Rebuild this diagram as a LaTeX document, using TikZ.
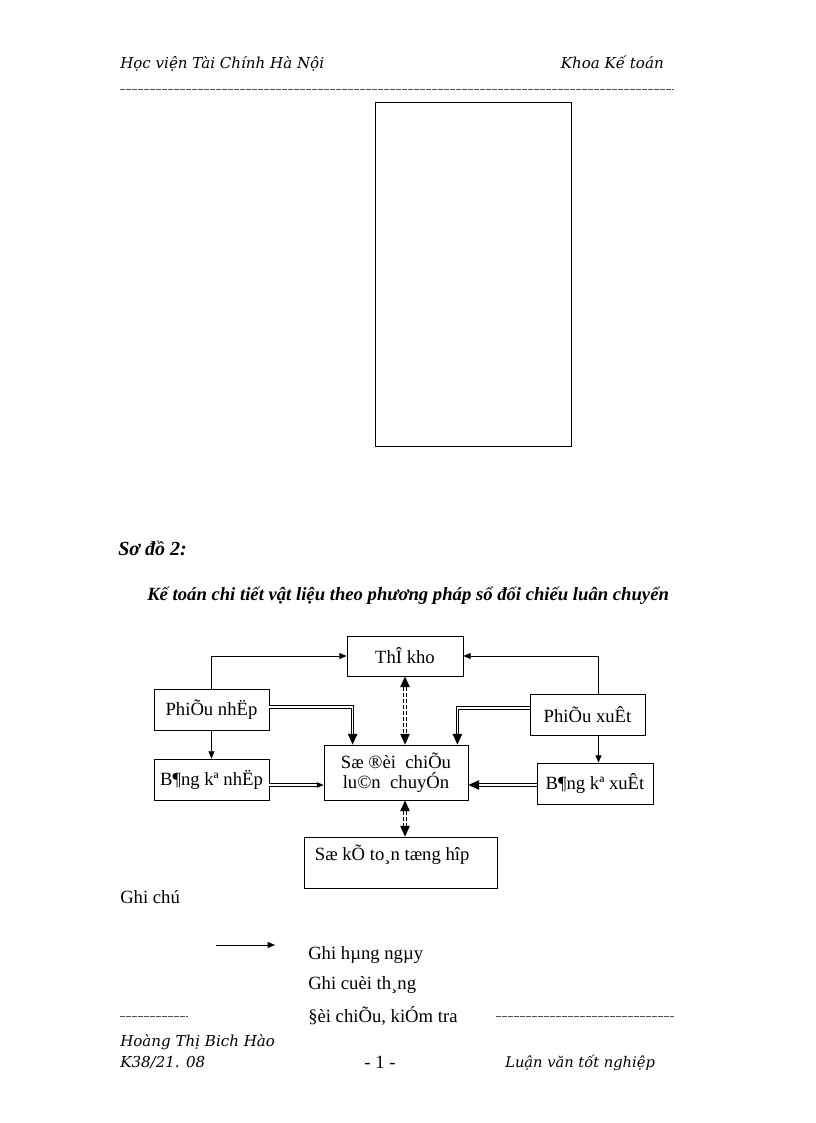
\documentclass[tikz,border=0pt]{standalone}
\usepackage{fontspec}
\setmainfont{Liberation Serif}
\newfontfamily\headfont{DejaVu Serif}
\usetikzlibrary{arrows.meta, positioning, calc}

\begin{document}
\begin{tikzpicture}[
    x=0.75pt, y=-0.75pt,
    box/.style={draw, line width=0.6pt, minimum width=115*0.75pt, minimum height=41*0.75pt, inner sep=0pt, font=\fontsize{14}{16}\selectfont},
    body/.style={anchor=west, inner sep=0pt, font=\fontsize{14}{16}\selectfont},
    headtext/.style={anchor=base west, inner sep=0pt, font=\headfont\itshape\fontsize{11.3}{13}\selectfont},
    thinarrow/.style={line width=0.6pt, -{Triangle[length=5.5pt, width=4.5pt]}},
    dblarrow/.style={double, double distance=0.8pt, line width=0.8pt, -{Triangle[length=8pt, width=7pt]}},
    dblsmall/.style={double, double distance=0.8pt, line width=0.8pt, -{Triangle[length=5pt, width=4pt]}},
    dashdbl/.style={double, double distance=0.8pt, line width=0.8pt, dash pattern=on 3pt off 1.5pt, {Triangle[length=8pt, width=7pt]}-{Triangle[length=8pt, width=7pt]}},
    rule/.style={line width=0.5pt, black!70, dash pattern=on 3.4pt off 1.1pt}
]
    % page
    \fill[white] (0,0) rectangle (816,1123);

    % header
    \node[headtext] (head1) at (120,69) {Học viện Tài Chính Hà Nội};
    \node[headtext, anchor=base east] (head2) at (664,69) {Khoa Kế toán};
    \draw[rule] (120,89) -- (674,89);

    % empty frame
    \draw[line width=0.6pt] (375,102) rectangle (571,446);

    % titles
    \node[body, font=\bfseries\itshape\fontsize{15}{17}\selectfont] (sodo) at (118,548) {Sơ đồ 2:};
    \node[body, font=\bfseries\itshape\fontsize{14}{16}\selectfont] (title) at (147,596) {Kế toán chi tiết vật liệu theo phương pháp sổ đối chiếu luân chuyển};

    % boxes
    \node[box, minimum width=116*0.75pt, minimum height=40*0.75pt] (thekho) at (405,656) {ThÎ kho};
    \node[box] (pnhap) at (211.5,709.5) {PhiÕu nhËp};
    \node[box] (pxuat) at (587.5,714.5) {PhiÕu xuÊt};
    \node[box, minimum width=144*0.75pt, minimum height=55*0.75pt, align=center] (sodc) at (396,772.5) {Sæ ®èi\ \ chiÕu\\[-1pt]lu©n\ \ chuyÓn};
    \node[box] (bknhap) at (211.5,779.5) {B¶ng kª nhËp};
    \node[box, minimum width=116*0.75pt] (bkxuat) at (595,783.5) {B¶ng kª xuÊt};
    \node[box, minimum width=193*0.75pt, minimum height=51*0.75pt] (sokt) at (400.5,862.5) {};
    \node[body] (sokttext) at ($(sokt.north west)+(11,18)$) {Sæ kÕ to¸n tæng hîp};

    % thin connectors
    \coordinate (px1) at ($(pxuat.north)+(11,0)$);
    \coordinate (px2) at ($(pxuat.south)+(11,0)$);
    \draw[thinarrow] (pnhap.north) |- (thekho.west);
    \draw[thinarrow] (px1) |- (thekho.east);
    \draw[thinarrow] (pnhap.south) -- (bknhap.north);
    \draw[thinarrow] (px2) -- (px2 |- bkxuat.north);

    % double connectors
    \coordinate (pn1) at ($(pnhap.east)+(0,-2.5)$);
    \coordinate (pn2) at ($(sodc.north west)+(29,0)$);
    \coordinate (pu1) at ($(pxuat.west)+(0,-6.5)$);
    \coordinate (pu2) at ($(sodc.north east)+(-11,0)$);
    \draw[dblarrow] (pn1) -| (pn2);
    \draw[dblarrow] (pu1) -| (pu2);
    \coordinate (bn1) at ($(bknhap.east)+(0,5.5)$);
    \draw[dblsmall] (bn1) -- (bn1 -| sodc.west);
    \coordinate (bx1) at ($(bkxuat.west)+(0,1.5)$);
    \draw[dblarrow] (bx1) -- (bx1 -| sodc.east);

    % dashed two-way connectors
    \draw[dashdbl] (thekho.south) -- (thekho.south |- sodc.north);
    \draw[dashdbl] (thekho.south |- sodc.south) -- (thekho.south |- sokt.north);

    % legend
    \node[body] (ghichu) at (120,897) {Ghi chú};
    \coordinate (legA) at (216,945);
    \coordinate (legB) at (275,945);
    \draw[thinarrow] (legA) -- (legB);
    \node[body] (leg1) at (308,955) {Ghi hµng ngµy};
    \node[body] (leg2) at (308,985) {Ghi cuèi th¸ng};
    \node[body] (leg3) at (308,1016) {§èi chiÕu, kiÓm tra};

    % footer
    \draw[rule] (120,1016.5) -- (188,1016.5);
    \draw[rule] (496,1016) -- (674,1016);
    \node[headtext] (foot1) at (120,1046) {Hoàng Thị Bich Hào};
    \node[headtext] (foot2) at (120,1067) {K38/21. 08};
    \node[body, anchor=center] (foot3) at (380,1062) {- 1 -};
    \node[headtext, font=\headfont\itshape\fontsize{11}{13}\selectfont] (foot4) at (505,1067) {Luận văn tốt nghiệp};
\end{tikzpicture}
\end{document}
